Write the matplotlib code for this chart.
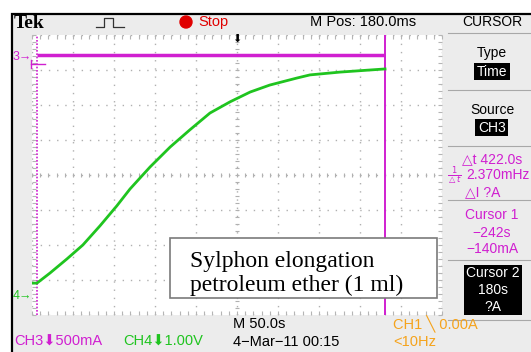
import numpy as np
import matplotlib.pyplot as plt
from matplotlib.patches import Rectangle, Circle

# scope trace data, in screen divisions (10 x 8 graticule, 50 s/div)
green_x = [0, 0.12, 0.44, 0.85, 1.24, 1.66, 2.07, 2.39, 2.88, 3.37, 3.85,
           4.34, 4.83, 5.32, 5.80, 6.46, 6.78, 7.51, 8.61]
green_y = [0.91, 0.91, 1.20, 1.60, 2.00, 2.55, 3.12, 3.60, 4.23, 4.80, 5.29,
           5.77, 6.09, 6.37, 6.57, 6.77, 6.86, 6.94, 7.03]
magenta_x = [0.12, 8.61]
magenta_y = [7.43, 7.43]
cursor1_x = 0.12
cursor2_x = 8.61

MAG = "#d01fd0"
GRN = "#1fc41f"
ORG = "#f5a31c"
W, H = 531, 352

fig = plt.figure(figsize=(W / 100, H / 100), dpi=100)

# background (screen frame)
bg = fig.add_axes([0, 0, 1, 1], zorder=0)
bg.set_xlim(0, W)
bg.set_ylim(H, 0)
bg.axis("off")
bg.add_patch(Rectangle((12, 14), 540, 360, fc="#ececec", ec="black", lw=1.6))

# graticule
gx0, gy0, gx1, gy1 = 32, 35, 442, 315
gr = fig.add_axes([gx0 / W, (H - gy1) / H, (gx1 - gx0) / W, (gy1 - gy0) / H], zorder=1)
gr.set_facecolor("white")
gr.set_xlim(0, 10)
gr.set_ylim(0, 8)
for s in gr.spines.values():
    s.set_visible(False)
gr.set_xticks(np.arange(0, 11, 1))
gr.set_yticks(np.arange(0, 9, 1))
gr.set_xticks(np.arange(0, 10.01, 0.2), minor=True)
gr.set_yticks(np.arange(0, 8.01, 0.2), minor=True)
gr.tick_params(which="both", direction="in", length=3, width=0.8, color="#b5b5b5",
               top=True, right=True, labelleft=False, labelbottom=False)
gr.grid(True, which="major", color="#b0b0b0", linestyle=(0, (1, 4.9)), lw=1.0)
minx = np.arange(0, 10.01, 0.2)
miny = np.arange(0, 8.01, 0.2)
gr.vlines(minx, 4 - 0.06, 4 + 0.06, color="#b0b0b0", lw=0.8)
gr.hlines(miny, 5 - 0.05, 5 + 0.05, color="#b0b0b0", lw=0.8)

# cursors and traces
gr.axvline(cursor1_x, color=MAG, lw=1.2, linestyle=(0, (1, 1)))
gr.axvline(cursor2_x, color=MAG, lw=1.4)
gr.plot(magenta_x, magenta_y, color=MAG, lw=2.5, solid_capstyle="butt")
gr.plot(green_x, green_y, color=GRN, lw=2.0)

# overlay text
ov = fig.add_axes([0, 0, 1, 1], zorder=2)
ov.set_xlim(0, W)
ov.set_ylim(H, 0)
ov.axis("off")

sans = ["Liberation Sans", "DejaVu Sans"]
fs = 10.5
fp = 10

ov.text(14, 23, "Tek", family="Liberation Serif", weight="bold", fontsize=14, va="center")
ov.plot([96, 104, 104, 113, 113, 124], [27, 27, 18, 18, 27, 27], color="#333333", lw=0.9)
ov.add_patch(Circle((186, 22), 6, color="#e00000"))
ov.text(198, 22, "Stop", color="#e00000", family=sans, fontsize=fs, va="center")
ov.text(310, 22, "M Pos: 180.0ms", color="black", family=sans, fontsize=fs, va="center")
ov.text(237, 39, "⬇", color="black", family=sans, fontsize=8, ha="center", va="center")

# left markers
ov.text(13, 57, "3→", color=MAG, family=sans, fontsize=9, va="center")
ov.plot([31, 31], [60, 68], color=MAG, lw=1)
ov.plot([31, 45], [64, 64], color=MAG, lw=1)
ov.text(13, 296, "4→", color=GRN, family=sans, fontsize=9, va="center")

# right panel
for y in [33, 90, 146, 200, 260, 320]:
    ov.plot([448, 531], [y, y], color="#a8a8a8", lw=0.8)
cx = 492
ov.text(cx, 22, "CURSOR", family=sans, fontsize=fp, ha="center", va="center")
ov.text(cx, 53, "Type", family=sans, fontsize=fp, ha="center", va="center")
ov.add_patch(Rectangle((474, 63), 36, 17, fc="black"))
ov.text(cx, 71.5, "Time", color="white", family=sans, fontsize=fp, ha="center", va="center")
ov.text(cx, 110, "Source", family=sans, fontsize=fp, ha="center", va="center")
ov.add_patch(Rectangle((475, 119), 33, 17, fc="black"))
ov.text(cx, 127.5, "CH3", color="white", family=sans, fontsize=fp, ha="center", va="center")
ov.text(462, 159, "△t 422.0s", color=MAG, family=sans, fontsize=fp, va="center")
ov.text(447, 176, r"$\frac{1}{\triangle t}$", color=MAG, fontsize=8.5, va="center")
ov.text(466, 175, "2.370mHz", color=MAG, family=sans, fontsize=fp, va="center")
ov.text(465, 192, "△I ?A", color=MAG, family=sans, fontsize=fp, va="center")
ov.text(cx, 215, "Cursor 1", color=MAG, family=sans, fontsize=fp, ha="center", va="center")
ov.text(cx, 233, "−242s", color=MAG, family=sans, fontsize=fp, ha="center", va="center")
ov.text(cx, 249, "−140mA", color=MAG, family=sans, fontsize=fp, ha="center", va="center")
ov.add_patch(Rectangle((464, 265), 58, 50, fc="black"))
ov.text(cx + 1, 273, "Cursor 2", color="white", family=sans, fontsize=fp, ha="center", va="center")
ov.text(cx + 1, 290, "180s", color="white", family=sans, fontsize=fp, ha="center", va="center")
ov.text(cx + 1, 307, "?A", color="white", family=sans, fontsize=fp, ha="center", va="center")

# bottom status line
ov.text(14, 342, "CH3⬇500mA", color=MAG, family=sans, fontsize=fs, va="center")
ov.text(123, 342, "CH4⬇1.00V", color=GRN, family=sans, fontsize=fs, va="center")
ov.text(233, 324, "M 50.0s", color="black", family=sans, fontsize=fs, va="center")
ov.text(233, 342, "4−Mar−11 00:15", color="black", family=sans, fontsize=fs, va="center")
ov.text(393, 324, "CH1 ╲ 0.00A", color=ORG, family=sans, fontsize=fs, va="center")
ov.text(393, 342, "<10Hz", color=ORG, family=sans, fontsize=fs, va="center")

# annotation box
ov.add_patch(Rectangle((170, 238), 267, 60, fc="white", ec="#7a7a7a", lw=1.2))
ov.text(190, 262, "Sylphon elongation", family="Liberation Serif", fontsize=17, va="center")
ov.text(190, 285, "petroleum ether (1 ml)", family="Liberation Serif", fontsize=17, va="center")

fig.savefig("out.png", dpi=100)
